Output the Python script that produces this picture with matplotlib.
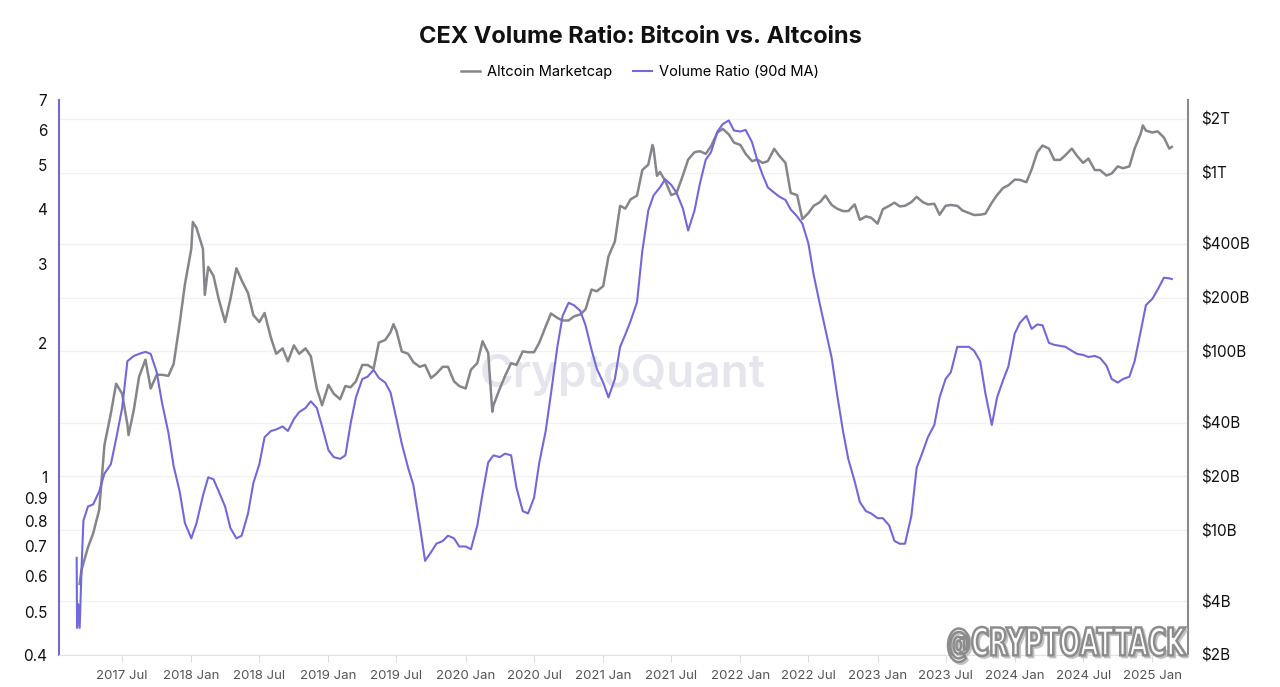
import matplotlib
matplotlib.use("Agg")
import matplotlib.pyplot as plt
import matplotlib.dates as mdates
import matplotlib.ticker as mticker
from matplotlib.textpath import TextPath
from matplotlib.patches import PathPatch
from matplotlib.font_manager import FontProperties
from matplotlib.transforms import Affine2D, IdentityTransform
import pandas as pd

plt.rcParams['font.family'] = ['Inter', 'DejaVu Sans']

# %% data
# volume ratio (90d MA): the short spike at the start, then 1st / 15th of each month
ratio_start_dates = ["2017-03-02", "2017-03-03", "2017-03-06", "2017-03-10", "2017-03-16", "2017-03-20"]
ratio_start_vals = [0.66, 0.46, 0.52, 0.46, 0.66, 0.80]
ratio_vals = [
	0.86, 0.87, 0.93, 1.02, 1.07, 1.22, 1.43, 1.82, 1.87, 1.89, 1.91, 1.89, 1.72, 1.47, 1.26, 1.06, 0.93, 0.79,  # 2017 Apr-Dec
	0.73, 0.79, 0.91, 1.00, 0.99, 0.93, 0.86, 0.77, 0.73, 0.74, 0.83, 0.97, 1.07, 1.23, 1.27, 1.28, 1.30, 1.27, 1.35, 1.40, 1.43, 1.48, 1.43, 1.30,  # 2018
	1.15, 1.11, 1.10, 1.12, 1.32, 1.51, 1.66, 1.68, 1.74, 1.67, 1.63, 1.55, 1.35, 1.19, 1.05, 0.96, 0.78, 0.65, 0.68, 0.71, 0.72, 0.74, 0.73, 0.70,  # 2019
	0.70, 0.69, 0.78, 0.92, 1.08, 1.12, 1.11, 1.13, 1.12, 0.95, 0.84, 0.83, 0.90, 1.08, 1.27, 1.54, 1.96, 2.30, 2.46, 2.43, 2.36, 2.19, 1.93, 1.75,  # 2020
	1.63, 1.51, 1.66, 1.96, 2.09, 2.24, 2.47, 3.21, 3.96, 4.28, 4.46, 4.65, 4.52, 4.34, 4.00, 3.57, 3.96, 4.54, 5.15, 5.35, 5.95, 6.18, 6.30, 5.98,  # 2021
	5.95, 6.00, 5.63, 5.13, 4.76, 4.46, 4.34, 4.25, 4.18, 3.98, 3.84, 3.70, 3.34, 2.84, 2.43, 2.15, 1.85, 1.54, 1.27, 1.10, 0.98, 0.88, 0.84, 0.83,  # 2022
	0.81, 0.81, 0.78, 0.72, 0.71, 0.71, 0.82, 1.05, 1.14, 1.23, 1.31, 1.51, 1.66, 1.72, 1.96, 1.96, 1.96, 1.92, 1.82, 1.54, 1.31, 1.51, 1.65, 1.77,  # 2023
	2.10, 2.22, 2.30, 2.15, 2.20, 2.19, 2.00, 1.98, 1.97, 1.96, 1.92, 1.89, 1.88, 1.86, 1.87, 1.85, 1.78, 1.66, 1.63, 1.66, 1.68, 1.82, 2.12, 2.43,  # 2024
	2.51, 2.63, 2.80, 2.79,  # 2025
]
ratio_end_date = "2025-02-22"
ratio_end_val = 2.78

# altcoin marketcap in $B, 1st / 15th of each month from 2017-03-15
cap_vals = [
	6.0, 8.0, 9.6, 13, 30, 45, 66, 58, 39, 47, 72, 90, 62, 74, 74, 73, 85, 143, 237,  # 2017 Mar-Dec
	375, 490, 375, 297, 265, 196, 146, 196, 292, 250, 212, 160, 146, 164, 119, 97, 104, 88, 108, 97, 104, 94, 62, 50,  # 2018
	65, 58, 54, 64, 63, 68, 84, 84, 80, 112, 116, 128, 130, 100, 97, 87, 82, 84, 71, 75, 82, 82, 68, 64,  # 2019
	62, 79, 86, 114, 98, 50, 62, 73, 86, 84, 100, 99, 99, 112, 138, 163, 154, 149, 149, 157, 161, 172, 222, 217,  # 2020
	232, 340, 412, 653, 630, 710, 745, 1035, 1110, 1360, 1010, 900, 750, 770, 965, 1185, 1303, 1320, 1275, 1410, 1680, 1760, 1640, 1475,  # 2021
	1430, 1275, 1161, 1185, 1135, 1161, 1360, 1240, 1135, 770, 750, 550, 595, 653, 685, 745, 660, 630, 610, 610, 665, 545, 570, 560,  # 2022
	519, 625, 653, 680, 648, 653, 685, 733, 685, 665, 670, 582, 653, 660, 653, 615, 595, 580, 582, 590, 680, 750, 822, 850,  # 2023
	915, 912, 885, 1045, 1303, 1420, 1365, 1180, 1180, 1255, 1365, 1240, 1135, 1200, 1035, 1035, 965, 990, 1085, 1060, 1085, 1365, 1650, 1720,  # 2024
	1680, 1705, 1575, 1365,  # 2025
]
# peaks and dips that fall between the half-month points
cap_extra_dates = ["2017-03-10", "2017-07-18", "2018-01-05", "2018-02-06", "2019-06-23",
	"2020-03-12", "2021-05-12", "2021-05-24", "2024-12-07", "2025-02-22"]
cap_extra_vals = [5.0, 34, 530, 207, 142, 46, 1430, 960, 1840, 1395]

left_ticks = [0.4, 0.5, 0.6, 0.7, 0.8, 0.9, 1, 2, 3, 4, 5, 6, 7]
right_ticks = [2, 4, 10, 20, 40, 100, 200, 400, 1000, 2000]
right_labels = ["$2B", "$4B", "$10B", "$20B", "$40B", "$100B", "$200B", "$400B", "$1T", "$2T"]

# %% series
ratio = pd.concat([
	pd.Series(ratio_start_vals, index=pd.to_datetime(ratio_start_dates)),
	pd.Series(ratio_vals, index=pd.date_range("2017-04-01", periods=len(ratio_vals), freq="SMS")),
	pd.Series([ratio_end_val], index=pd.to_datetime([ratio_end_date])),
]).sort_index()

cap = pd.concat([
	pd.Series(cap_vals, index=pd.date_range("2017-03-15", periods=len(cap_vals), freq="SMS")),
	pd.Series(cap_extra_vals, index=pd.to_datetime(cap_extra_dates)),
]).sort_index()

purple = "#7367dc"
grey = "#85858b"

# %% figure
W, H = 1280, 687
fig = plt.figure(figsize=(W / 100, H / 100), dpi=100)
fig.patch.set_facecolor("white")
ax = fig.add_axes([59 / W, 1 - 655 / H, (1188 - 59) / W, (655 - 100) / H])
ax2 = ax.twinx()
ax.set_zorder(ax2.get_zorder() + 1)
ax.patch.set_visible(False)
ax2.patch.set_facecolor("white")

ax2.plot(cap.index, cap.values, color=grey, lw=1.8, zorder=2, label="Altcoin Marketcap")
ax.plot(ratio.index, ratio.values, color=purple, lw=1.5, zorder=3, label="Volume Ratio (90d MA)")

ax.set_xlim(pd.Timestamp("2017-01-14"), pd.Timestamp("2025-04-06"))

ax.set_yscale("log")
ax.set_ylim(0.4, 7)
ax.yaxis.set_major_locator(mticker.FixedLocator(left_ticks))
ax.yaxis.set_major_formatter(mticker.FixedFormatter([f"{t:g}" for t in left_ticks]))
ax.yaxis.set_minor_locator(mticker.NullLocator())
ax.tick_params(axis="y", length=0, pad=8.5, labelsize=11, labelcolor="#111")

ax2.set_yscale("log")
ax2.set_ylim(2, 2553)
ax2.yaxis.set_major_locator(mticker.FixedLocator(right_ticks))
ax2.yaxis.set_major_formatter(mticker.FixedFormatter(right_labels))
ax2.yaxis.set_minor_locator(mticker.NullLocator())
ax2.tick_params(axis="y", length=0, pad=9.5, labelsize=11, labelcolor="#111")
ax2.grid(axis="y", color="#f1f1f3", lw=1)

ax.xaxis.set_major_locator(mdates.MonthLocator(bymonth=[1, 7]))
ax.xaxis.set_major_formatter(mdates.DateFormatter("%Y %b"))
ax.tick_params(axis="x", length=5, color="#dddddd", pad=6, labelsize=9.5, labelcolor="#555")
ax2.tick_params(axis="x", length=0)

for a in (ax, ax2):
	a.spines["top"].set_visible(False)
ax.spines["right"].set_visible(False)
ax2.spines["left"].set_visible(False)
ax2.spines["bottom"].set_visible(False)
ax.spines["left"].set_color(purple)
ax.spines["left"].set_linewidth(1.5)
ax.spines["bottom"].set_color("#e2e2e2")
ax2.spines["right"].set_color("#8a8a8a")
ax2.spines["right"].set_linewidth(1.5)

# watermark
ax2.text(0.499, 0.505, "CryptoQuant", transform=ax2.transAxes, ha="center", va="center",
	fontsize=33, fontweight="semibold", color="#e5e5ee", zorder=0)

fig.text(0.5, 1 - 37 / H, "CEX Volume Ratio: Bitcoin vs. Altcoins", ha="center", va="center",
	fontsize=17, fontweight="bold", color="#111")

h2, l2 = ax2.get_legend_handles_labels()
h1, l1 = ax.get_legend_handles_labels()
fig.legend(h2 + h1, l2 + l1, loc="center", bbox_to_anchor=(0.5, 1 - 72 / H), ncol=2,
	frameon=False, fontsize=10.5, handlelength=1.3, handletextpad=0.5, columnspacing=1.4)

# @CRYPTOATTACK stamp, stretched to its box, with a light drop shadow
fp = FontProperties(family=["Liberation Sans Narrow", "DejaVu Sans"], weight="bold")
tp = TextPath((0, 0), "@CRYPTOATTACK", size=1, prop=fp)
ext = tp.get_extents()
bx0, bx1, by_top, by_bot = 948, 1186, 627, 662
tr = Affine2D().translate(-ext.x0, -ext.y0).scale((bx1 - bx0) / ext.width, (by_bot - by_top) / ext.height) \
	.translate(bx0, H - by_bot)
stamp = tr.transform_path(tp)
fig.patches.append(PathPatch(stamp, transform=Affine2D().translate(2, -2), facecolor="#c4c4c4",
	edgecolor="#c4c4c4", lw=1.5, zorder=9, figure=fig))
fig.patches.append(PathPatch(stamp, transform=IdentityTransform(),
	facecolor="white", edgecolor="#8c8c8c", lw=1.8, zorder=10, figure=fig))

fig.savefig("out.png", dpi=100)
